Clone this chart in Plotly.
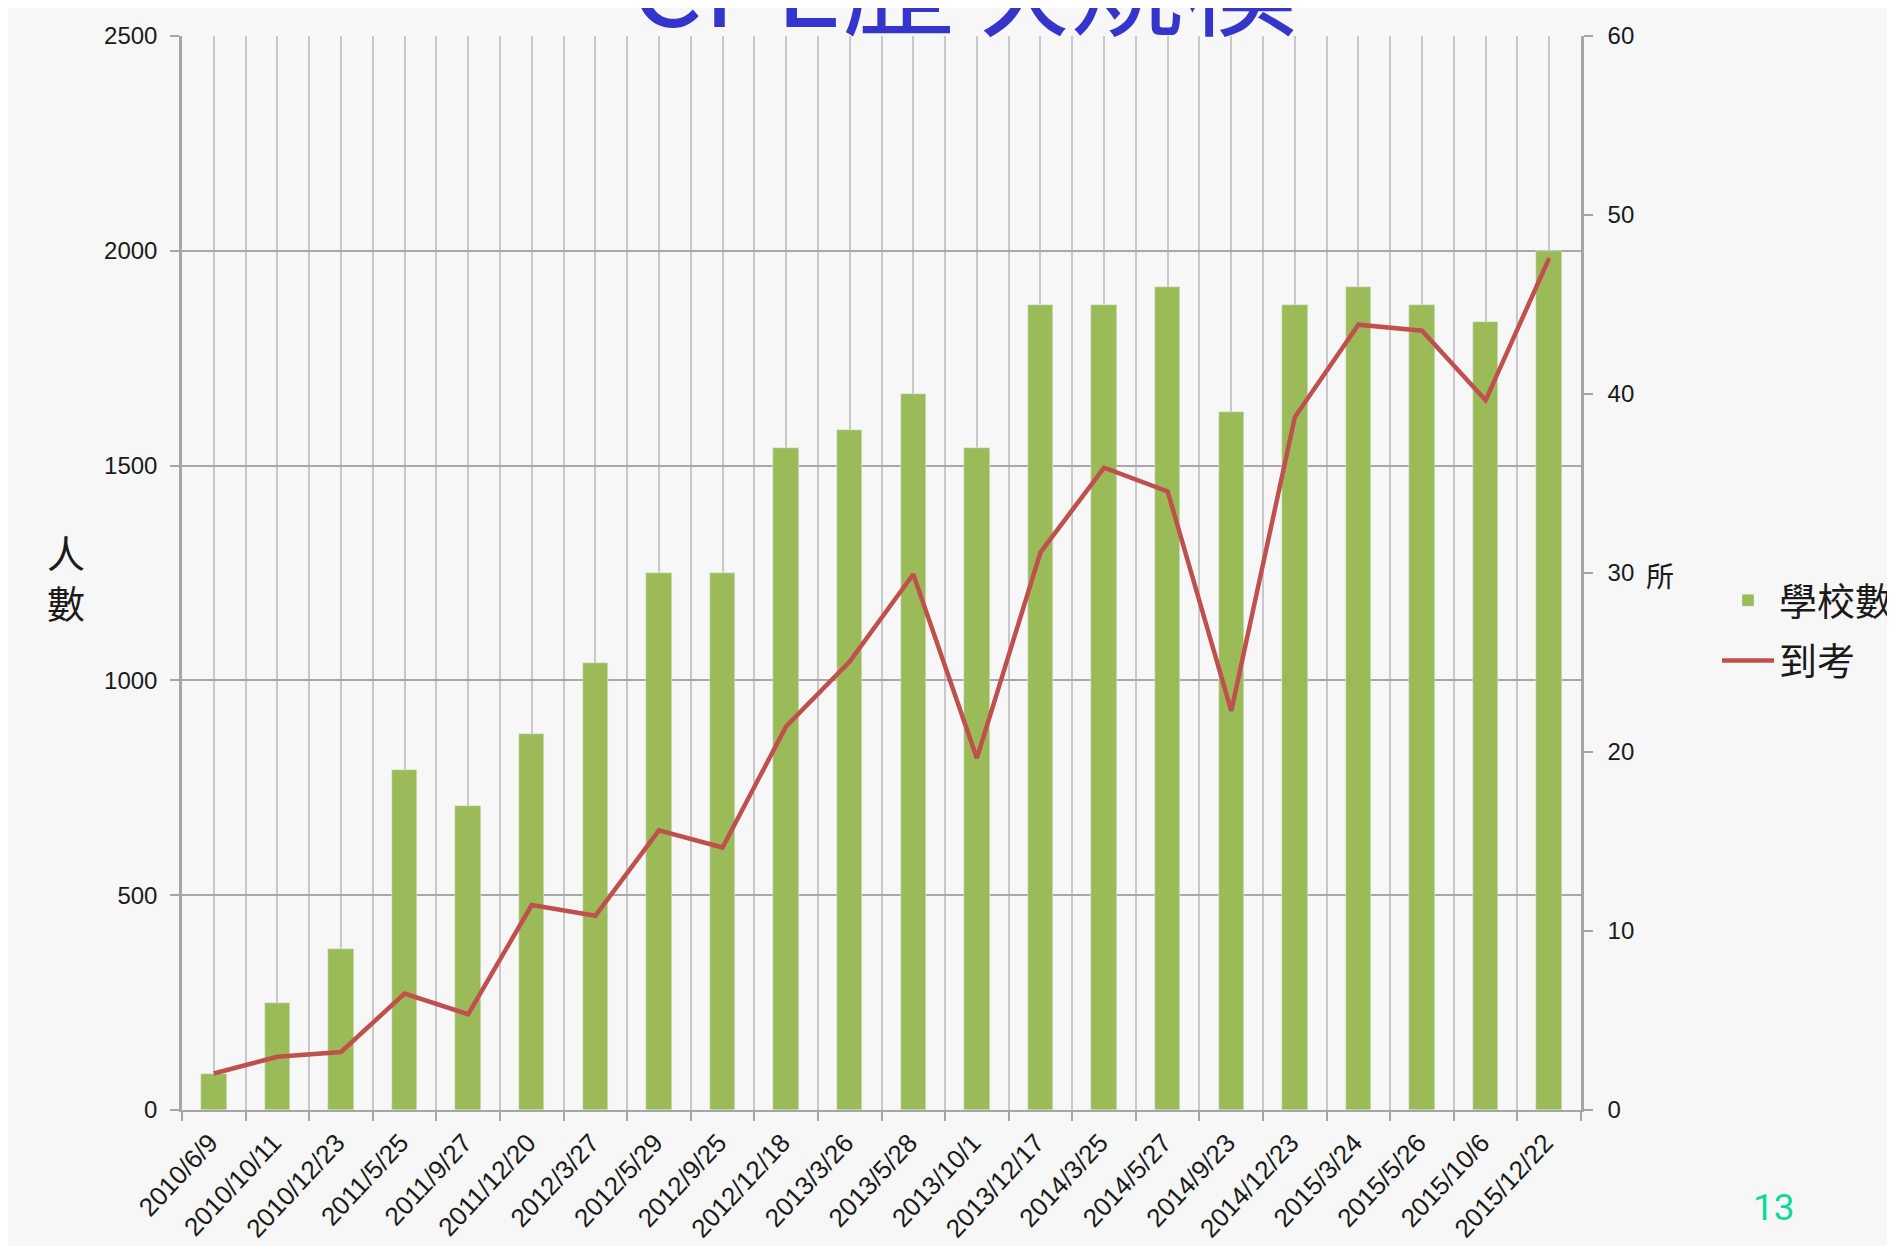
import plotly.graph_objects as go

# ---- data ----
dates = ["2010/6/9", "2010/10/11", "2010/12/23", "2011/5/25", "2011/9/27", "2011/12/20",
         "2012/3/27", "2012/5/29", "2012/9/25", "2012/12/18", "2013/3/26", "2013/5/28",
         "2013/10/1", "2013/12/17", "2014/3/25", "2014/5/27", "2014/9/23", "2014/12/23",
         "2015/3/24", "2015/5/26", "2015/10/6", "2015/12/22"]
schools = [2, 6, 9, 19, 17, 21, 25, 30, 30, 37, 38, 40, 37, 45, 45, 46, 39, 45, 46, 45, 44, 48]
attend = [85, 124, 135, 271, 223, 477, 452, 651, 611, 893, 1044, 1247, 819, 1298, 1495,
          1440, 929, 1613, 1828, 1814, 1652, 1983]
left_ticks = [0, 500, 1000, 1500, 2000, 2500]
right_ticks = [0, 10, 20, 30, 40, 50, 60]

x_idx = list(range(len(dates)))
bounds = [i - 0.5 for i in range(len(dates) + 1)]

BAR = "#9BBB59"
LINE = "#C0504D"
AXC = "#A6A6A6"
TXT = "#1A1A1A"
BG = "#F7F7F7"
LAT = "Liberation Sans"
CJK = "Noto Sans CJK TC"

FW, FH = 1887, 1238
ML, MR, MT, MB = 174, 314, 28, 136
PW, PH = FW - ML - MR, FH - MT - MB
OFF = 8  # page body margin


def px_x(X):
    return (X - OFF - ML) / PW


def px_y(Y):
    return (MT + PH - (Y - OFF)) / PH


fig = go.Figure()
fig.add_trace(go.Bar(x=x_idx, y=schools, name="學校數", marker_color=BAR, width=0.4,
                     yaxis="y", legendgroup="a"))
fig.add_trace(go.Scatter(x=x_idx, y=attend, name="到考", mode="lines",
                         line=dict(color=LINE, width=4.5), yaxis="y2", legendgroup="b"))

fig.update_layout(
    width=FW, height=FH, autosize=False,
    margin=dict(l=ML, r=MR, t=MT, b=MB, autoexpand=False),
    paper_bgcolor=BG, plot_bgcolor=BG,
    font=dict(family=LAT, color=TXT),
    showlegend=True,
    legend=dict(xref="container", yref="container",
                x=(1709) / FW, y=1 - (561) / FH, xanchor="left", yanchor="top",
                font=dict(family=CJK, size=38, color=TXT),
                itemwidth=52, tracegroupgap=8, traceorder="grouped",
                bgcolor="rgba(0,0,0,0)"),
    bargap=0,
    xaxis=dict(range=[-0.5, len(dates) - 0.5], tickmode="array", tickvals=x_idx,
               ticktext=dates, tickangle=-47, ticks="", automargin=False,
               tickfont=dict(size=26, family=LAT, color=TXT),
               showgrid=True, gridcolor="#C8C8C8", gridwidth=2,
               showline=True, linecolor=AXC, linewidth=2, zeroline=False,
               ticklabelstandoff=5, ticklabelshift=-4,
               minor=dict(tickmode="array", tickvals=bounds, ticks="outside", ticklen=9,
                          tickcolor=AXC, tickwidth=2, showgrid=True,
                          gridcolor="#C8C8C8", gridwidth=2)),
    yaxis=dict(range=[0, 60], tickmode="array", tickvals=right_ticks, side="right",
               showgrid=False, zeroline=False, ticks="outside", ticklen=9, automargin=False,
               tickcolor=AXC, tickwidth=2, showline=True, linecolor=AXC, linewidth=2.5,
               tickfont=dict(size=24, family=LAT, color=TXT), ticklabelstandoff=10),
    yaxis2=dict(range=[0, 2500], tickmode="array", tickvals=left_ticks, side="left",
                overlaying="y", showgrid=True, gridcolor="#A8A8A8", gridwidth=1.5,
                zeroline=False, ticks="outside", ticklen=9, tickcolor=AXC, tickwidth=2,
                showline=True, linecolor=AXC, linewidth=2.5, automargin=False,
                tickfont=dict(size=24, family=LAT, color=TXT), ticklabelstandoff=8),
)

fig.add_annotation(text="CPE歷次規模", xref="paper", yref="paper",
                   x=px_x(964), y=px_y(-23), xanchor="center", yanchor="middle",
                   showarrow=False, font=dict(family=CJK, size=114, color="#3535CC"))
fig.add_annotation(text="人", xref="paper", yref="paper", x=px_x(66), y=px_y(551),
                   xanchor="center", yanchor="middle", showarrow=False,
                   font=dict(family=CJK, size=38, color=TXT))
fig.add_annotation(text="數", xref="paper", yref="paper", x=px_x(66), y=px_y(602),
                   xanchor="center", yanchor="middle", showarrow=False,
                   font=dict(family=CJK, size=38, color=TXT))
fig.add_annotation(text="所", xref="paper", yref="paper", x=px_x(1660), y=px_y(575),
                   xanchor="center", yanchor="middle", showarrow=False,
                   font=dict(family=CJK, size=28, color=TXT))
fig.add_annotation(text="13", xref="paper", yref="paper", x=px_x(1774), y=px_y(1207),
                   xanchor="center", yanchor="middle", showarrow=False,
                   font=dict(family="Roboto", size=37, color="#12D69C"))

fig.write_html("out.html")
